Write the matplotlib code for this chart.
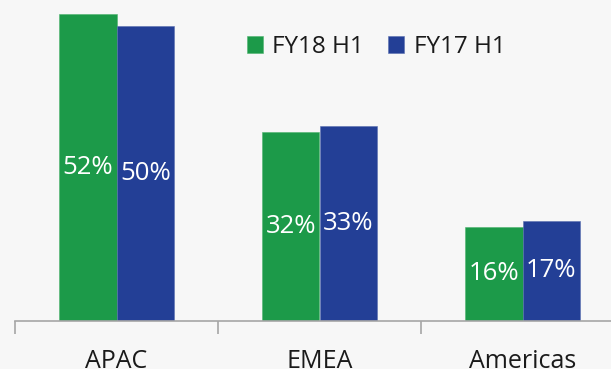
import numpy as np
import matplotlib.pyplot as plt
from matplotlib.ticker import FixedLocator

plt.rcParams['font.family'] = ['Open Sans', 'DejaVu Sans']

# revenue share by region, half-year comparison
regions = ["APAC", "EMEA", "Americas"]
fy18_h1 = [52, 32, 16]
fy17_h1 = [50, 33, 17]

green = "#1c9a49"
blue = "#233f96"
bg = "#f7f7f7"

fig = plt.figure(figsize=(6.11, 3.69), dpi=100, facecolor=bg)
ax = fig.add_axes([15 / 611, 48 / 369, 609 / 611, 321 / 369])
ax.set_facecolor(bg)

x = np.arange(len(regions))
w = 0.285
b1 = ax.bar(x - w / 2, fy18_h1, w, color=green, edgecolor="#4fb470", linewidth=0.4, label="FY18 H1")
b2 = ax.bar(x + w / 2, fy17_h1, w, color=blue, edgecolor="#5a70b0", linewidth=0.4, label="FY17 H1")

for bars in (b1, b2):
    ax.bar_label(bars, fmt="%d%%", label_type="center", color="white", fontsize=18.5)

ax.set_xlim(-0.5, 2.5)
ax.set_ylim(0, 54.4)

for s in ("top", "right", "left"):
    ax.spines[s].set_visible(False)
ax.spines["bottom"].set_color("#a6a6a6")
ax.spines["bottom"].set_linewidth(1.2)
ax.set_yticks([])

ax.set_xticks(x)
ax.set_xticklabels(regions, fontsize=18, color="#1a1a1a")
ax.tick_params(axis="x", which="major", length=0, pad=20)
ax.xaxis.set_minor_locator(FixedLocator([-0.5, 0.5, 1.5, 2.5]))
ax.tick_params(axis="x", which="minor", length=9, width=1.2, color="#a6a6a6")

fig.legend(handles=[b1, b2], loc="center left", bbox_to_anchor=(247 / 611, 1 - 47 / 369),
           ncol=2, frameon=False, fontsize=17.5, borderpad=0, borderaxespad=0,
           handlelength=0.66, handleheight=0.66, handletextpad=0.38, columnspacing=1.0,
           labelcolor="#1a1a1a")

fig.savefig("out.png", dpi=100, facecolor=bg)
